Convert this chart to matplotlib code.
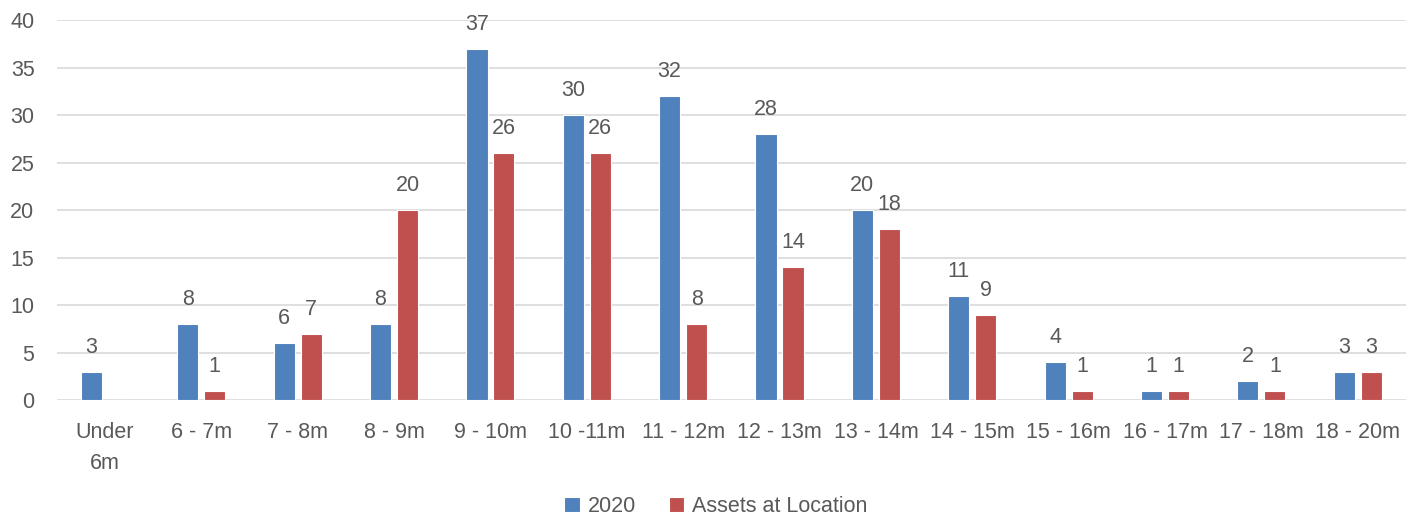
import numpy as np
import matplotlib.pyplot as plt

categories = ["Under\n6m", "6 - 7m", "7 - 8m", "8 - 9m", "9 - 10m", "10 -11m", "11 - 12m",
              "12 - 13m", "13 - 14m", "14 - 15m", "15 - 16m", "16 - 17m", "17 - 18m", "18 - 20m"]
counts_2020 = [3, 8, 6, 8, 37, 30, 32, 28, 20, 11, 4, 1, 2, 3]
counts_assets = [None, 1, 7, 20, 26, 26, 8, 14, 18, 9, 1, 1, 1, 3]

blue = "#4F81BD"
red = "#C0504D"
grey = "#595959"

plt.rcParams['font.family'] = ['Liberation Sans', 'DejaVu Sans']
fs = 15.5

fig = plt.figure(figsize=(14.18, 5.21), dpi=100)
ax = fig.add_axes([0.040, 0.232, 0.9515, 0.7296])

x = np.arange(len(categories))
w = 0.22
gap = 0.06
off = (w + gap) / 2

a_vals = [v if v is not None else 0 for v in counts_assets]
b1 = ax.bar(x - off, counts_2020, w, color=blue, edgecolor="white", linewidth=0.8,
            label="2020", zorder=3)
b2 = ax.bar(x + off, a_vals, w, color=red, edgecolor="white", linewidth=0.8,
            label="Assets at Location", zorder=3)

for rect, v in zip(b1, counts_2020):
    ax.annotate(str(v), (rect.get_x() + rect.get_width() / 2, v), xytext=(0, 10),
                textcoords="offset points", ha="center", va="bottom", fontsize=fs, color=grey)
for rect, v in zip(b2, counts_assets):
    if v is None:
        continue
    ax.annotate(str(v), (rect.get_x() + rect.get_width() / 2, v), xytext=(0, 10),
                textcoords="offset points", ha="center", va="bottom", fontsize=fs, color=grey)

ax.set_xlim(-0.5, len(categories) - 0.5)
ax.set_ylim(0, 40)
ax.set_yticks(range(0, 41, 5))
ax.set_xticks(x)
ax.set_xticklabels(categories, linespacing=1.6)
ax.tick_params(axis="both", length=0, labelsize=fs, labelcolor=grey)
ax.tick_params(axis="x", pad=16)
ax.tick_params(axis="y", pad=16)
ax.grid(axis="y", color="#D9D9D9", linewidth=1.2, zorder=0)
for s in ax.spines.values():
    s.set_visible(False)

fig.legend(handles=[b1, b2], loc="lower center", bbox_to_anchor=(0.505, -0.03), ncol=2,
           frameon=False, fontsize=fs, labelcolor=grey, handlelength=0.7, handleheight=0.7,
           handletextpad=0.4, columnspacing=1.5)

fig.savefig("out.png", dpi=100)
